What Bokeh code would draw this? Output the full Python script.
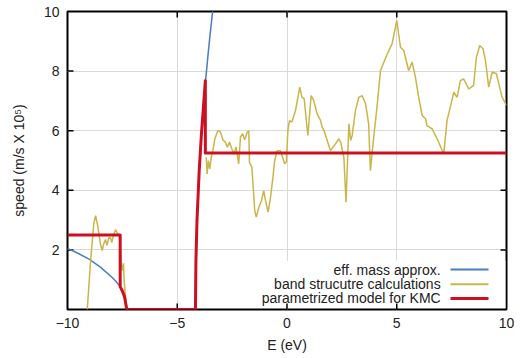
from bokeh.plotting import figure
from bokeh.models import FixedTicker, Range1d, Label, BoxAnnotation
from bokeh.embed import file_html
from bokeh.resources import INLINE

# ---- data ----
nan = float("nan")

# band structure calculations (yellow)
band_x = [-9.10, -8.95, -8.80, -8.72, -8.62, -8.50, -8.42, -8.35, -8.27, -8.20,
          -8.12, -8.05, -7.98, -7.90, -7.81, -7.72, -7.64, -7.60, -7.56, -7.50,
          -7.45, -7.42, -7.38, -7.33, -7.28, nan,
          -3.68, -3.64, -3.58, -3.52, -3.45, -3.38, -3.28, -3.15, -3.03, -2.92,
          -2.80, -2.72, -2.62, -2.52, -2.42, -2.32, -2.20, -2.12, -2.02, -1.93,
          -1.81, -1.74, -1.71, -1.60, -1.47, -1.40, -1.28, -1.16, -1.06, -0.98,
          -0.86, -0.75, -0.64, -0.56, -0.45, -0.30, -0.20, -0.11, -0.03, 0.04,
          0.11, 0.22, 0.39, 0.58, 0.68, 0.78, 0.95, 1.10, 1.22, 1.37,
          1.53, 1.60, 1.69, 1.98, 2.21, 2.36, 2.45, 2.59, 2.69, 2.82,
          2.90, 2.97, 3.12, 3.27, 3.42, 3.58, 3.72, 3.80, 3.95, 4.10,
          4.26, 4.57, 4.79, 5.00, 5.17, 5.32, 5.54, 5.70, 5.85, 6.00,
          6.16, 6.31, 6.38, 6.61, 6.84, 7.14, 7.29, 7.44, 7.60, 7.75,
          7.90, 8.05, 8.28, 8.50, 8.63, 8.78, 8.93, 9.04, 9.19, 9.35,
          9.54, 9.65, 9.80, 10.00]
band_y = [0.00, 1.60, 2.90, 3.15, 2.80, 2.20, 1.98, 2.20, 2.35, 2.15,
          2.40, 2.42, 2.25, 2.50, 2.68, 2.55, 2.50, 2.20, 1.60, 1.30,
          1.55, 1.00, 0.60, 0.25, 0.00, nan,
          5.10, 4.55, 5.00, 4.72, 5.10, 5.33, 5.75, 6.00, 5.95, 5.70,
          5.60, 5.45, 5.62, 5.40, 5.22, 5.45, 4.89, 5.78, 5.90, 5.70,
          5.95, 6.00, 4.94, 4.78, 3.32, 3.10, 3.43, 3.66, 3.99, 3.66,
          3.27, 3.77, 4.44, 5.00, 5.33, 5.33, 5.11, 4.89, 4.95, 6.00,
          6.34, 6.29, 6.68, 7.46, 7.12, 7.08, 5.84, 7.18, 7.01, 6.57,
          6.34, 6.12, 6.00, 5.33, 5.56, 5.73, 5.60, 5.11, 3.60, 6.23,
          5.67, 5.84, 6.68, 7.12, 7.18, 6.90, 6.23, 4.66, 5.78, 6.79,
          8.02, 8.58, 8.92, 9.70, 8.80, 8.69, 8.02, 8.30, 7.80, 7.12,
          6.51, 6.40, 6.17, 6.06, 5.73, 5.22, 6.34, 6.79, 7.29, 7.12,
          7.68, 7.74, 7.40, 7.52, 8.47, 8.86, 8.75, 8.36, 7.46, 7.97,
          7.91, 7.57, 7.12, 6.85]

# effective mass approximation (blue)
mass_x = [-10.0, -9.5, -9.0, -8.5, -8.0, -7.8, -7.6, -7.5, -7.4, -7.3, nan,
          -4.17, -4.15, -4.10, -4.00, -3.90, -3.80, -3.70, -3.60, -3.50, -3.40, -3.37]
mass_y = [2.05, 1.88, 1.68, 1.42, 1.10, 0.95, 0.77, 0.62, 0.42, 0.00, nan,
          0.00, 1.60, 3.00, 4.66, 5.87, 6.87, 7.75, 8.53, 9.25, 9.92, 10.10]

# parametrized model for KMC (red)
kmc_x = [-10.0, -7.6, -7.6, -7.5, -7.4, -7.3, -4.17, -4.15, -4.10, -4.00,
         -3.90, -3.80, -3.72, -3.72, 10.0]
kmc_y = [2.50, 2.50, 0.77, 0.62, 0.42, 0.00, 0.00, 1.60, 3.00, 4.66,
         5.87, 6.87, 7.68, 5.25, 5.25]

x_ticks = [-10, -5, 0, 5, 10]
x_tick_labels = {-10: "\u221210", -5: "\u22125", 0: "0", 5: "5", 10: "10"}
y_ticks = [2, 4, 6, 8, 10]
x_grid = [-5, 0, 5]
y_grid = [2, 4, 6, 8]

legend_labels = ["eff. mass approx.", "band strucutre calculations",
                 "parametrized model for KMC"]

BLUE = "#4a7cc4"
YELLOW = "#cbb548"
RED = "#cc1022"
FONT = "Liberation Sans"
TXT = "#222222"

X0, X1, Y0, Y1 = -10, 10, 0, 10
W, H = 520, 358
BL, BR, BT, BB = 67, 14, 11, 49

p = figure(width=W, height=H, output_backend="svg", toolbar_location=None,
           x_range=Range1d(X0, X1), y_range=Range1d(Y0, Y1),
           min_border_left=BL, min_border_right=BR, min_border_top=BT,
           min_border_bottom=BB)
p.background_fill_color = "white"
p.border_fill_color = "white"
p.outline_line_color = "black"
p.outline_line_width = 2

# grid
p.xgrid.ticker = FixedTicker(ticks=x_grid)
p.ygrid.ticker = FixedTicker(ticks=y_grid)
for g in (p.xgrid, p.ygrid):
    g.grid_line_color = "#d9d9d9"
    g.grid_line_width = 1

# axes
xa = p.xaxis[0]
ya = p.yaxis[0]
xa.ticker = FixedTicker(ticks=x_ticks)
xa.major_label_overrides = x_tick_labels
ya.ticker = FixedTicker(ticks=y_ticks)
xa.axis_label = "E (eV)"
ya.axis_label = "speed (m/s X 10\u2075)"
for ax in (xa, ya):
    ax.axis_line_color = None
    ax.major_tick_in = 0
    ax.major_tick_out = 0
    ax.major_tick_line_color = None
    ax.minor_tick_line_color = None
    ax.major_label_text_font = FONT
    ax.major_label_text_font_size = "14px"
    ax.major_label_text_color = TXT
    ax.axis_label_text_font = FONT
    ax.axis_label_text_font_size = "14px"
    ax.axis_label_text_font_style = "normal"
    ax.axis_label_text_color = TXT
xa.major_label_standoff = 8
xa.axis_label_standoff = 6
ya.major_label_standoff = 8
ya.axis_label_standoff = 14

# inward tick marks on all four sides (gnuplot style, mirrored), 6 px long
TICK_PX = 6
fw = W - BL - BR
fh = H - BT - BB
tx = TICK_PX * (X1 - X0) / fw
ty = TICK_PX * (Y1 - Y0) / fh
inner_x = [t for t in x_ticks if X0 < t < X1]
inner_y = [t for t in y_ticks if Y0 < t < Y1]
p.segment(x0=inner_x, y0=[Y0] * len(inner_x), x1=inner_x, y1=[Y0 + ty] * len(inner_x),
          line_color="black", line_width=1.5)
p.segment(x0=inner_x, y0=[Y1] * len(inner_x), x1=inner_x, y1=[Y1 - ty] * len(inner_x),
          line_color="black", line_width=1.5)
p.segment(x0=[X0] * len(inner_y), y0=inner_y, x1=[X0 + tx] * len(inner_y), y1=inner_y,
          line_color="black", line_width=1.5)
p.segment(x0=[X1] * len(inner_y), y0=inner_y, x1=[X1 - tx] * len(inner_y), y1=inner_y,
          line_color="black", line_width=1.5)

# legend background (covers the grid lines, under the data)
p.add_layout(BoxAnnotation(left=-2.3, right=9.95, bottom=0.05, top=1.64,
                           fill_color="white", fill_alpha=1.0,
                           line_color=None, level="underlay"))

# data
p.line(mass_x, mass_y, line_color=BLUE, line_width=1.5)
p.line(band_x, band_y, line_color=YELLOW, line_width=1.5)
p.line(kmc_x, kmc_y, line_color=RED, line_width=3, line_join="round")

# legend (gnuplot style: right-aligned text, sample to the right)
leg_colors = [BLUE, YELLOW, RED]
leg_widths = [2, 2, 3]
row_y = [1.34, 0.85, 0.37]
for lab, col, w, yy in zip(legend_labels, leg_colors, leg_widths, row_y):
    p.add_layout(Label(x=7.0, y=yy, text=lab, text_align="right",
                       text_baseline="middle", text_font=FONT,
                       text_font_size="14px", text_color=TXT))
    p.segment(x0=[7.45], y0=[yy], x1=[9.18], y1=[yy], line_color=col,
              line_width=w)

open("out.html", "w").write(file_html(p, INLINE))
